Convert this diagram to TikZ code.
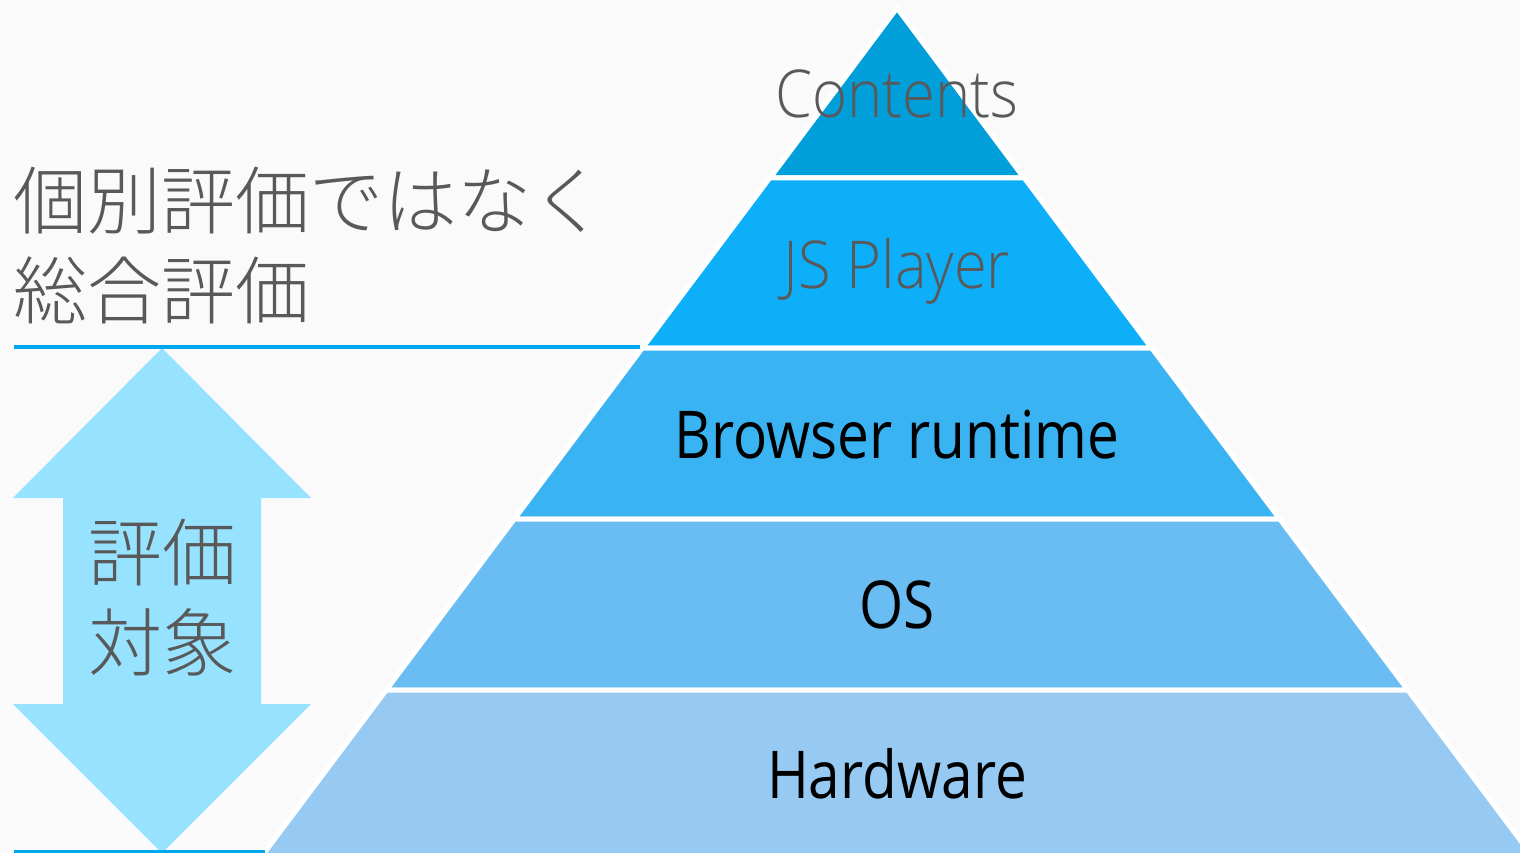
\documentclass[tikz,border=0pt]{standalone}
\usepackage{fontspec}
\setmainfont{Open Sans}
\IfFontExistsTF{Open Sans Light}{\newfontfamily\lightfont{Open Sans Light}}{\newcommand{\lightfont}{}}
\IfFontExistsTF{Noto Sans CJK JP Light}{\newfontfamily\jafont{Noto Sans CJK JP Light}}{\newfontfamily\jafont{Noto Sans CJK JP}}
\usetikzlibrary{calc}
\definecolor{bgcol}{HTML}{FAFAFA}
\definecolor{textgrey}{HTML}{595959}
\definecolor{lineblue}{HTML}{00A9EC}
\definecolor{arrowblue}{HTML}{96E2FF}
\definecolor{contentscol}{HTML}{009FD9}
\definecolor{playercol}{HTML}{0DAFF8}
\definecolor{browsercol}{HTML}{3AB3F2}
\definecolor{oscol}{HTML}{6ABDF3}
\definecolor{hardwarecol}{HTML}{97CAF3}
\newcommand{\narrowtext}[2][0.86]{\scalebox{#1}[1]{#2}}
\tikzstyle{layer}=[draw=white,line width=5pt,line join=miter]
\tikzstyle{layerlabel}=[anchor=base,inner sep=0pt,font=\fontsize{66}{66}\selectfont]
\tikzstyle{jatext}=[inner sep=0pt,text=textgrey,font=\jafont\fontsize{74}{74}\selectfont]

\begin{document}
\begin{tikzpicture}[x=1pt,y=-1pt]
\useasboundingbox (0,0) rectangle (1520,853);
\fill[bgcol] (0,0) rectangle (1520,853);
\begin{scope}
\clip (0,0) rectangle (1520,853);
% pyramid, apex at (897,8), slope 0.749
\draw[layer,fill=contentscol] (897,8) -- (770,178) -- (1024,178) -- cycle;
\foreach \yt/\yb/\col in {178/348/playercol, 348/519/browsercol, 519/690/oscol, 690/900/hardwarecol}
    \draw[layer,fill=\col] ({897-0.749*(\yt-8)},\yt) -- ({897+0.749*(\yt-8)},\yt)
        -- ({897+0.749*(\yb-8)},\yb) -- ({897-0.749*(\yb-8)},\yb) -- cycle;
\end{scope}

\foreach \pos/\name/\txt/\col in {{(897,118)/contents/Contents/textgrey}, {(897,288)/player/JS Player/textgrey}}
    \node[layerlabel,text=\col] (\name) at \pos {\lightfont\narrowtext[0.905]{\txt}};
\foreach \pos/\name/\txt/\col in {{(897,458)/browser/Browser runtime/black}, {(897,628)/os/OS/black}, {(897,798)/hardware/Hardware/black}}
    \node[layerlabel,text=\col] (\name) at \pos {\narrowtext{\txt}};

% evaluation arrow
\fill[arrowblue] (162,348) -- (311,498) -- (261,498) -- (261,704) -- (311,704) -- (162,853)
    -- (13,704) -- (63,704) -- (63,498) -- (13,498) -- cycle;
\node[jatext,anchor=base] (target1) at (162,580) {評価};
\node[jatext,anchor=base] (target2) at (162,670) {対象};

\node[jatext,anchor=base west] (overall1) at (13,229) {個別評価ではなく};
\node[jatext,anchor=base west] (overall2) at (13,318) {総合評価};
\draw[lineblue,line width=4pt] (14,347) -- (640,347);
\draw[lineblue,line width=4pt] (14,852) -- (265,852);
\end{tikzpicture}
\end{document}
